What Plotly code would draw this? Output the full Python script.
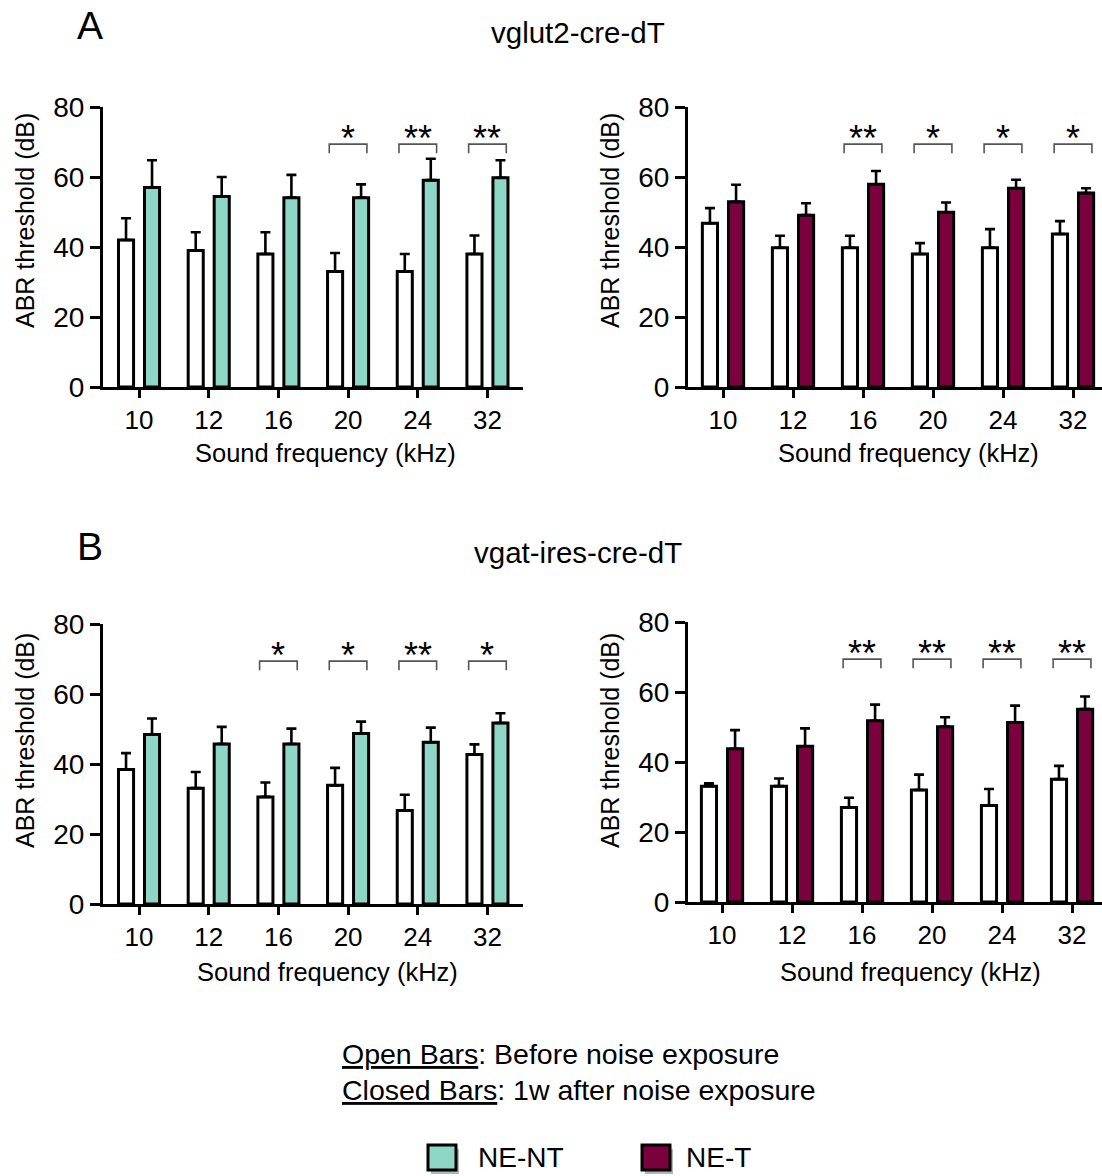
import plotly.graph_objects as go

# ---------------- data ----------------
freqs = ["10", "12", "16", "20", "24", "32"]

# Panel A (vglut2-cre-dT)
A_nt_before = [42, 39, 38, 33, 33, 38]
A_nt_before_err = [6.2, 5.2, 6.2, 5.3, 5.0, 5.3]
A_nt_after = [57, 54.4, 54.1, 54.1, 59.1, 59.8]
A_nt_after_err = [7.8, 5.6, 6.5, 3.8, 6.1, 5.0]
A_nt_sig = ["", "", "", "*", "**", "**"]

A_t_before = [46.8, 39.8, 39.8, 38, 39.8, 43.7]
A_t_before_err = [4.3, 3.4, 3.4, 3.1, 5.3, 3.7]
A_t_after = [52.9, 49.1, 57.9, 49.9, 56.8, 55.4]
A_t_after_err = [4.9, 3.4, 3.8, 2.8, 2.4, 1.4]
A_t_sig = ["", "", "**", "*", "*", "*"]

# Panel B (vgat-ires-cre-dT)
B_nt_before = [38.4, 33.1, 30.6, 33.9, 26.7, 42.7]
B_nt_before_err = [4.7, 4.6, 4.1, 5.0, 4.5, 2.9]
B_nt_after = [48.4, 45.7, 45.7, 48.7, 46.2, 51.7]
B_nt_after_err = [4.6, 4.9, 4.4, 3.4, 4.2, 2.8]
B_nt_sig = ["", "", "*", "*", "**", "*"]

B_t_before = [33.1, 33.1, 27.0, 32.0, 27.6, 35.1]
B_t_before_err = [0.8, 2.2, 2.8, 4.4, 4.7, 3.8]
B_t_after = [43.8, 44.5, 51.8, 50.1, 51.3, 55.1]
B_t_after_err = [5.3, 5.1, 4.6, 2.7, 4.8, 3.6]
B_t_sig = ["", "", "**", "**", "**", "**"]

y_ticks = [0, 20, 40, 60, 80]
bracket_low, bracket_high, star_y = 66.8, 69.4, 71.0

GREEN = "#8ed7c6"
MAROON = "#7a003e"
FONT = "Liberation Sans, Arial, sans-serif"

# the page body margin is removed below, so figure pixels == page pixels
OFF = 0
FW, FH = 1102 - OFF, 1176 - OFF


def fx(p):
    return (p - OFF) / FW


def fy(p):
    return 1 - (p - OFF) / FH


panels = [
    dict(before=A_nt_before, before_err=A_nt_before_err, after=A_nt_after,
         after_err=A_nt_after_err, sig=A_nt_sig, color=GREEN,
         px=(103, 523), py=(107, 387), xr=(-0.517, 5.51)),
    dict(before=A_t_before, before_err=A_t_before_err, after=A_t_after,
         after_err=A_t_after_err, sig=A_t_sig, color=MAROON,
         px=(688, 1102), py=(107, 387), xr=(-0.5, 5.414)),
    dict(before=B_nt_before, before_err=B_nt_before_err, after=B_nt_after,
         after_err=B_nt_after_err, sig=B_nt_sig, color=GREEN,
         px=(103, 523), py=(624, 904), xr=(-0.517, 5.51)),
    dict(before=B_t_before, before_err=B_t_before_err, after=B_t_after,
         after_err=B_t_after_err, sig=B_t_sig, color=MAROON,
         px=(688, 1102), py=(622, 902), xr=(-0.486, 5.428)),
]

fig = go.Figure()
idx = list(range(len(freqs)))
annotations = []
layout_axes = {}

for i, p in enumerate(panels, start=1):
    xa = "x" if i == 1 else f"x{i}"
    ya = "y" if i == 1 else f"y{i}"
    fig.add_trace(go.Bar(
        x=idx, y=p["before"], xaxis=xa, yaxis=ya, offsetgroup="before",
        marker=dict(color="white", line=dict(color="black", width=3)),
        error_y=dict(type="data", symmetric=False, array=p["before_err"],
                     arrayminus=[0] * len(idx), color="black", thickness=2.6, width=5),
        showlegend=False, hoverinfo="skip"))
    fig.add_trace(go.Bar(
        x=idx, y=p["after"], xaxis=xa, yaxis=ya, offsetgroup="after",
        marker=dict(color=p["color"], line=dict(color="black", width=3)),
        error_y=dict(type="data", symmetric=False, array=p["after_err"],
                     arrayminus=[0] * len(idx), color="black", thickness=2.6, width=5),
        showlegend=False, hoverinfo="skip"))
    # significance brackets
    for k, s in enumerate(p["sig"]):
        if not s:
            continue
        fig.add_trace(go.Scatter(
            x=[k - 0.27, k - 0.27, k + 0.27, k + 0.27],
            y=[bracket_low, bracket_high, bracket_high, bracket_low],
            xaxis=xa, yaxis=ya, mode="lines",
            line=dict(color="#555555", width=1.6),
            showlegend=False, hoverinfo="skip"))
        annotations.append(dict(
            x=k, y=star_y, xref=xa, yref=ya, text=s, showarrow=False,
            font=dict(family=FONT, size=36, color="black"),
            xanchor="center", yanchor="middle"))

    x0, x1 = p["px"]
    ytop, ybot = p["py"]
    layout_axes["xaxis" if i == 1 else f"xaxis{i}"] = dict(
        domain=[fx(x0), min(fx(x1), 1.0)], anchor=ya, range=list(p["xr"]),
        tickvals=idx, ticktext=freqs, ticks="outside", ticklen=8, tickwidth=3,
        tickcolor="black", showline=True, linewidth=3, linecolor="black",
        showgrid=False, zeroline=False, fixedrange=True,
        tickfont=dict(family=FONT, size=26, color="black"))
    layout_axes["yaxis" if i == 1 else f"yaxis{i}"] = dict(
        domain=[fy(ybot), fy(ytop)], anchor=xa, range=[0, 80],
        tickvals=y_ticks, ticks="outside", ticklen=10, tickwidth=3,
        tickcolor="black", showline=True, linewidth=3, linecolor="black",
        showgrid=False, zeroline=False, fixedrange=True,
        tickfont=dict(family=FONT, size=28, color="black"))

    # axis titles
    xt_center = {1: 325, 2: 908, 3: 327, 4: 910}[i]
    xt_y = 453 if i <= 2 else 972
    annotations.append(dict(
        x=fx(xt_center), y=fy(xt_y), xref="paper", yref="paper",
        text="Sound frequency (kHz)", showarrow=False,
        font=dict(family=FONT, size=25.5, color="black"),
        xanchor="center", yanchor="middle"))
    yt_x = 25 if i in (1, 3) else 610
    yt_y = 221 if i <= 2 else 741
    annotations.append(dict(
        x=fx(yt_x), y=fy(yt_y), xref="paper", yref="paper",
        text="ABR threshold (dB)", showarrow=False, textangle=-90,
        font=dict(family=FONT, size=25, color="black"),
        xanchor="center", yanchor="middle"))

# panel letters and titles
for letter, title, ly, ty in [("A", "vglut2-cre-dT", 25, 32), ("B", "vgat-ires-cre-dT", 547, 552)]:
    annotations.append(dict(x=fx(90), y=fy(ly), xref="paper", yref="paper",
                            text=letter, showarrow=False,
                            font=dict(family=FONT, size=39, color="black"),
                            xanchor="center", yanchor="middle"))
    annotations.append(dict(x=fx(578), y=fy(ty), xref="paper", yref="paper",
                            text=title, showarrow=False,
                            font=dict(family=FONT, size=29.5, color="black"),
                            xanchor="center", yanchor="middle"))

# explanatory text
annotations.append(dict(x=fx(340), y=fy(1054), xref="paper", yref="paper",
                        text="<u>Open Bars</u>: Before noise exposure", showarrow=False,
                        font=dict(family=FONT, size=28.5, color="black"),
                        xanchor="left", yanchor="middle"))
annotations.append(dict(x=fx(340), y=fy(1090), xref="paper", yref="paper",
                        text="<u>Closed Bars</u>: 1w after noise exposure", showarrow=False,
                        font=dict(family=FONT, size=28.5, color="black"),
                        xanchor="left", yanchor="middle"))

# legend
shapes = []
legend_items = [("NE-NT", GREEN, 428, 476), ("NE-T", MAROON, 642, 684)]
for name, col, sx, tx in legend_items:
    shapes.append(dict(type="rect", xref="paper", yref="paper",
                       x0=fx(sx + 3), x1=fx(sx + 31), y0=fy(1174), y1=fy(1149),
                       fillcolor="#b5b5b5", line=dict(width=0), layer="below"))
    shapes.append(dict(type="rect", xref="paper", yref="paper",
                       x0=fx(sx), x1=fx(sx + 28), y0=fy(1170), y1=fy(1145),
                       fillcolor=col, line=dict(color="black", width=3)))
    annotations.append(dict(x=fx(tx), y=fy(1157), xref="paper", yref="paper",
                            text=name, showarrow=False,
                            font=dict(family=FONT, size=28, color="black"),
                            xanchor="left", yanchor="middle"))

fig.update_layout(
    width=FW, height=FH,
    margin=dict(l=0, r=0, t=0, b=0, autoexpand=False),
    paper_bgcolor="white", plot_bgcolor="white",
    barmode="group", bargap=0.254, bargroupgap=0.42,
    annotations=annotations, shapes=shapes,
    font=dict(family=FONT, color="black"),
    hovermode=False,
    **layout_axes)

fig.write_html(
    "out.html",
    config={"displayModeBar": False, "staticPlot": True},
    post_script="document.body.style.margin='0';document.body.style.overflow='hidden';")
